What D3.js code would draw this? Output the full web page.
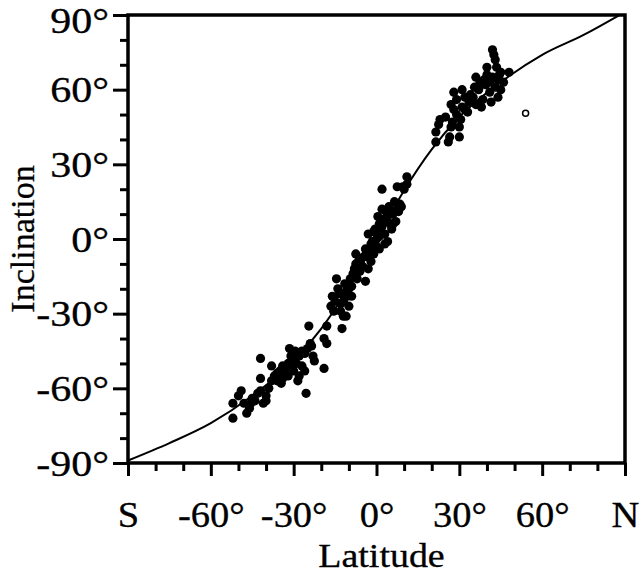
<!DOCTYPE html>
<html>
<head>
<meta charset="utf-8">
<script src="https://cdn.jsdelivr.net/npm/d3@7"></script>
<style>
  body { margin: 0; background: white; }
  text { font-family: "Liberation Serif", "Times New Roman", serif; fill: black; stroke: black; stroke-width: 0.3px; }
</style>
</head>
<body>
<div class="content"></div>
<script>
const width = 642
const height = 576
const plotLeft = 128, plotRight = 625, plotTop = 15, plotBottom = 463
const tickFont = 35
const yStretch = 1.2
const xStretch = 1.1

// tick labels
const xTickValues = [-90, -60, -30, 0, 30, 60, 90]
const xTickLabels = ['S', '-60°', '-30°', '0°', '30°', '60°', 'N']
const yTickValues = [-90, -60, -30, 0, 30, 60, 90]
const yTickLabels = ['-90°', '-60°', '-30°', '0°', '30°', '60°', '90°']

// reference curve
const curveLat = [-90, -75, -60, -45, -30, -20, -10, 0, 10, 20, 30, 45, 60, 75, 88]
const curveInc = [-89, -82, -74, -63, -49, -36, -19.5, 0, 19.5, 36, 49, 63, 74, 82, 90]

// filled site means (latitude, inclination)
const siteLat = [
  -52, -52, -50, -49, -48, -47, -46, -45.5, -45, -44, -43, -42, -42, -42, -41, -40, -40, -39,
  -38, -38, -37, -36, -36, -35, -34.5, -34, -34, -33, -33, -32, -32, -31.5, -31, -31, -30, -30,
  -29.5, -29, -28.5, -28, -28, -27, -27, -26, -26, -25.5, -25, -24.5, -24, -23.5, -23, -22.5,
  -19, -19, -18, -18,
  -16.5, -16, -15.5, -15, -14.5, -14, -13.5, -13, -13, -12.5, -12, -12, -11.5, -11, -11, -10.5,
  -10, -10, -9.5, -9, -9, -8.5, -8, -7.5, -7.5, -7, -6.5, -6, -6, -5, -4.5, -4, -4, -3.5, -3, -3,
  -2.5, -2, -2, -2, -1.5, -1, -1, -0.5, 0, 0, 0.5, 1, 1, 1, 1.5, 2, 2, 2, 2.5, 3, 3, 3.5, 4, 4,
  4.5, 5, 5, 5.5, 6, 6, 6.5, 7, 7.5, 7.5, 8, 8.5, 9, 9.5, 10, 11, 11,
  21.5, 21.5, 22.5, 23, 25, 26, 26.5, 27, 27, 27.5, 28, 28, 29, 29, 30, 30, 30.5, 31, 31, 32, 32,
  33, 33.5, 34, 35, 35.5, 36, 36, 37, 37.5, 38, 38.5, 39, 39.5, 40, 40, 41, 41, 41.5, 42, 42,
  42.5, 43, 43, 43.5, 44, 44, 44.5, 45, 45, 46, 48
]
const siteInc = [
  -72, -66, -63, -61, -66, -70, -68, -66, -64, -65, -62, -61, -56, -48, -66, -63, -65, -60,
  -51, -57, -55, -54, -57, -53, -58, -56, -51, -54, -52, -50, -55, -44, -51, -47, -53, -49,
  -45, -50, -57, -55, -47, -51, -45, -53, -46, -62, -44, -35, -42, -43, -47, -49,
  -52, -40, -42, -35,
  -27, -23, -29, -25, -16, -20, -22, -29, -26, -36, -25, -31, -18, -21, -31, -23,
  -27, -20, -16, -19, -23, -14, -12, -6, -10, -16, -9, -8, -13, -11, -7, -17, -4, -7, -12, 2,
  -4, -2, -9, -6, -1, -6, 3, 4, 0, -3, 9, -4, 6, 1, 2, 20, 12, 5, 8, 2, -2, 11, 7, -1,
  13, 6, 10, 4, 10, 6, 15, 7, 12, 21, 11, 14, 13, 21, 20, 25, 22,
  39, 43, 46, 48, 49, 39, 41, 54, 45, 47, 59, 52, 56, 50, 45, 41, 48, 60, 53, 57, 52,
  51, 55, 58, 57, 61, 65, 54, 60, 63, 53, 56, 64, 62, 69, 66, 59, 63, 55, 65, 76,
  74, 72, 61, 69, 57, 64, 66, 60, 67, 63, 67
]

// open symbol
const openLat = [54]
const openInc = [50.5]

const svg = d3.select('div.content')
  .append('svg')
  .attr('width', width)
  .attr('height', height)

const x = d3.scaleLinear().domain([-90, 90]).range([plotLeft, plotRight])
const y = d3.scaleLinear().domain([-90, 90]).range([plotBottom, plotTop])

// minor ticks every 10 degrees
const minorX = d3.range(-90, 91, 10).filter(v => v % 30 !== 0)
const minorY = d3.range(-90, 91, 10).filter(v => v % 30 !== 0)

// x axis
const xAxis = svg.append('g').attr('transform', `translate(0,${plotBottom})`)
xAxis.call(d3.axisBottom(x).tickValues(xTickValues).tickSize(13).tickFormat((d, i) => xTickLabels[i]))
xAxis.append('g').call(d3.axisBottom(x).tickValues(minorX).tickSize(8).tickFormat(''))
xAxis.selectAll('.domain').remove()
xAxis.selectAll('line').attr('stroke', 'black').attr('stroke-width', 3)
xAxis.selectAll('text')
  .attr('y', 64)
  .attr('dy', null)
  .attr('transform', `scale(${xStretch},1)`)
  .style('font-size', tickFont + 'px')
  .style('font-family', '"Liberation Serif", serif')

// y axis
const yAxis = svg.append('g').attr('transform', `translate(${plotLeft},0)`)
yAxis.call(d3.axisLeft(y).tickValues(yTickValues).tickSize(15).tickFormat((d, i) => yTickLabels[i]))
yAxis.append('g').call(d3.axisLeft(y).tickValues(minorY).tickSize(8).tickFormat(''))
yAxis.selectAll('.domain').remove()
yAxis.selectAll('line').attr('stroke', 'black').attr('stroke-width', 3)
yAxis.selectAll('text')
  .attr('x', -19 / yStretch)
  .attr('dy', d => d === 90 ? '0.5em' : '0.35em')
  .attr('transform', `scale(${yStretch},1)`)
  .style('font-size', tickFont + 'px')
  .style('font-family', '"Liberation Serif", serif')

// frame
svg.append('rect')
  .attr('x', plotLeft)
  .attr('y', plotTop)
  .attr('width', plotRight - plotLeft)
  .attr('height', plotBottom - plotTop)
  .attr('fill', 'none')
  .attr('stroke', 'black')
  .attr('stroke-width', 3.5)

// curve
const curveData = curveLat.map((d, i) => ({ lat: d, inc: curveInc[i] }))
svg.append('path')
  .datum(curveData)
  .attr('fill', 'none')
  .attr('stroke', 'black')
  .attr('stroke-width', 2)
  .attr('d', d3.line().x(d => x(d.lat)).y(d => y(d.inc)).curve(d3.curveMonotoneX))

// filled points
const sites = siteLat.map((d, i) => ({ lat: d, inc: siteInc[i] }))
svg.append('g')
  .selectAll('circle')
  .data(sites)
  .join('circle')
  .attr('cx', d => x(d.lat))
  .attr('cy', d => y(d.inc))
  .attr('r', 4.6)
  .attr('fill', 'black')

// open points
const opens = openLat.map((d, i) => ({ lat: d, inc: openInc[i] }))
svg.append('g')
  .selectAll('circle')
  .data(opens)
  .join('circle')
  .attr('cx', d => x(d.lat))
  .attr('cy', d => y(d.inc))
  .attr('r', 3)
  .attr('fill', 'white')
  .attr('stroke', 'black')
  .attr('stroke-width', 1.5)

// axis titles
svg.append('text')
  .attr('transform', `translate(${(plotLeft + plotRight) / 2 + 5},567) scale(1.15,1)`)
  .attr('text-anchor', 'middle')
  .style('font-size', '33px')
  .text('Latitude')

svg.append('text')
  .attr('transform', `translate(34,${(plotTop + plotBottom) / 2}) rotate(-90)`)
  .attr('text-anchor', 'middle')
  .style('font-size', '34px')
  .text('Inclination')
</script>
</body>
</html>
